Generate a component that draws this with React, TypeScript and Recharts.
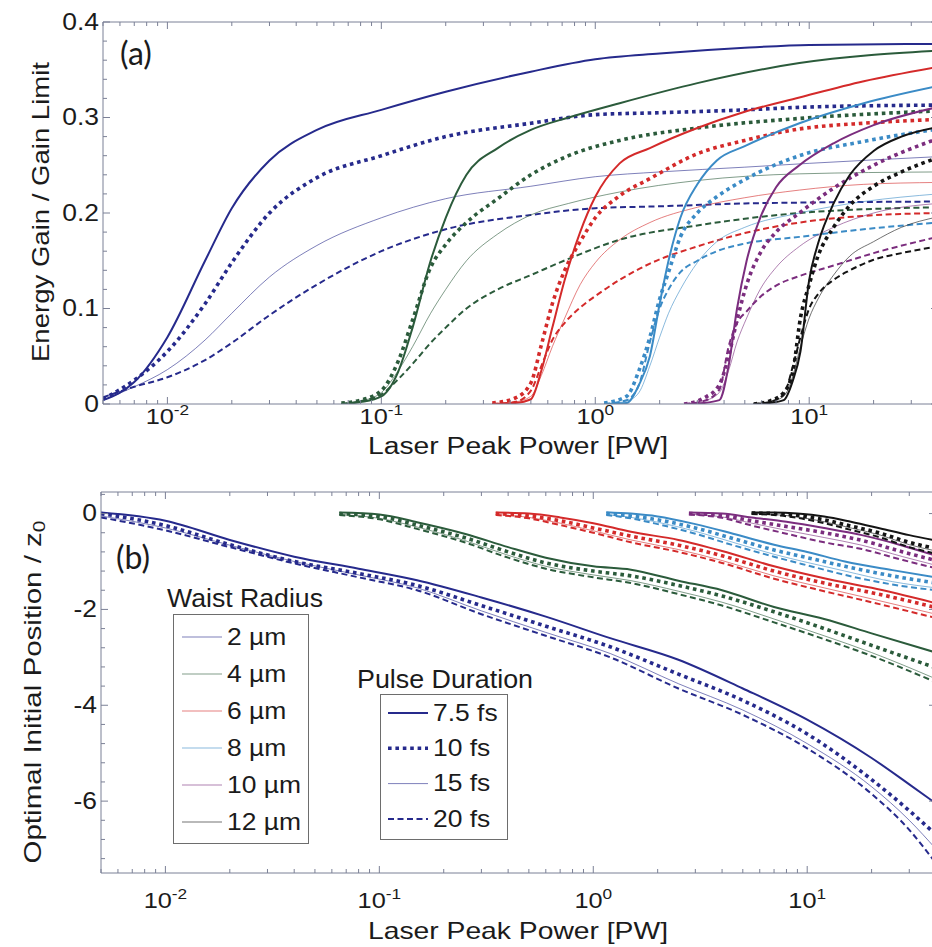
import React from 'react';
import { LineChart, Line, XAxis, YAxis } from 'recharts';

// ---- panel (a): energy gain / gain limit vs laser peak power [PW] ----
// each waist radius: power samples + 4 rows (7.5 fs, 10 fs, 15 fs, 20 fs)
const gainP2 = [0.005, 0.007, 0.01, 0.015, 0.02, 0.03, 0.05, 0.1, 0.2, 0.5, 1, 2, 5, 10, 40];
const gain2 = [
  [0.004, 0.023, 0.07, 0.15, 0.205, 0.255, 0.287, 0.308, 0.327, 0.348, 0.361, 0.367, 0.373, 0.376, 0.377],
  [0.005, 0.025, 0.055, 0.105, 0.148, 0.2, 0.237, 0.26, 0.28, 0.294, 0.303, 0.305, 0.308, 0.311, 0.313],
  [0.004, 0.018, 0.036, 0.067, 0.095, 0.133, 0.166, 0.195, 0.215, 0.228, 0.238, 0.243, 0.248, 0.252, 0.259],
  [0.007, 0.018, 0.028, 0.046, 0.064, 0.093, 0.125, 0.16, 0.183, 0.198, 0.205, 0.207, 0.21, 0.211, 0.212],
];

const gainP4 = [0.065, 0.08, 0.1, 0.12, 0.14, 0.17, 0.2, 0.25, 0.35, 0.5, 0.75, 1.3, 3, 9, 40];
const gain4 = [
  [0, 0.002, 0.008, 0.034, 0.08, 0.15, 0.195, 0.24, 0.268, 0.287, 0.3, 0.315, 0.336, 0.357, 0.37],
  [0.001, 0.004, 0.014, 0.045, 0.088, 0.143, 0.167, 0.19, 0.215, 0.24, 0.26, 0.276, 0.289, 0.299, 0.307],
  [0, 0.003, 0.012, 0.035, 0.06, 0.095, 0.12, 0.15, 0.178, 0.198, 0.21, 0.222, 0.234, 0.241, 0.243],
  [0, 0.003, 0.01, 0.026, 0.042, 0.064, 0.08, 0.1, 0.12, 0.135, 0.152, 0.172, 0.187, 0.2, 0.206],
];

const gainP6 = [0.33, 0.42, 0.5, 0.56, 0.63, 0.72, 0.85, 1.0, 1.3, 1.8, 3, 5, 9, 18, 40];
const gain6 = [
  [0, 0.001, 0.005, 0.035, 0.08, 0.13, 0.18, 0.217, 0.252, 0.268, 0.289, 0.306, 0.321, 0.338, 0.353],
  [0.001, 0.006, 0.022, 0.062, 0.105, 0.14, 0.17, 0.195, 0.218, 0.236, 0.262, 0.276, 0.288, 0.294, 0.298],
  [0, 0.002, 0.008, 0.03, 0.06, 0.09, 0.125, 0.148, 0.172, 0.19, 0.206, 0.216, 0.224, 0.23, 0.232],
  [0, 0.002, 0.014, 0.04, 0.067, 0.085, 0.101, 0.113, 0.13, 0.147, 0.165, 0.179, 0.19, 0.197, 0.2],
];

const gainP8 = [1.1, 1.4, 1.6, 1.8, 2.0, 2.2, 2.5, 3.0, 3.7, 5, 9, 18, 40];
const gain8 = [
  [0, 0.001, 0.02, 0.05, 0.105, 0.15, 0.195, 0.23, 0.255, 0.27, 0.294, 0.315, 0.333],
  [0.001, 0.008, 0.035, 0.07, 0.11, 0.138, 0.175, 0.2, 0.217, 0.235, 0.26, 0.275, 0.288],
  [0, 0.003, 0.012, 0.04, 0.07, 0.095, 0.12, 0.148, 0.17, 0.185, 0.2, 0.212, 0.22],
  [0, 0.004, 0.02, 0.065, 0.1, 0.12, 0.138, 0.15, 0.16, 0.168, 0.175, 0.183, 0.19],
];

const gainP10 = [2.6, 3.2, 3.8, 4.2, 4.6, 5.1, 5.9, 7, 9, 13, 20, 40];
const gain10 = [
  [0, 0.001, 0.004, 0.04, 0.1, 0.15, 0.195, 0.227, 0.25, 0.273, 0.292, 0.311],
  [0, 0.006, 0.02, 0.05, 0.088, 0.125, 0.158, 0.18, 0.2, 0.226, 0.25, 0.278],
  [0, 0.003, 0.012, 0.035, 0.065, 0.09, 0.12, 0.143, 0.165, 0.185, 0.2, 0.21],
  [0, 0.003, 0.015, 0.06, 0.085, 0.097, 0.112, 0.124, 0.134, 0.145, 0.158, 0.175],
];

const gainP12 = [5.5, 6.5, 7.6, 8.4, 9.1, 10, 11, 13, 15.5, 20, 27, 40];
const gain12 = [
  [0, 0.001, 0.004, 0.025, 0.055, 0.13, 0.168, 0.21, 0.24, 0.265, 0.28, 0.29],
  [0, 0.003, 0.012, 0.035, 0.09, 0.125, 0.155, 0.185, 0.208, 0.228, 0.243, 0.258],
  [0, 0.002, 0.008, 0.03, 0.06, 0.09, 0.11, 0.135, 0.155, 0.17, 0.185, 0.196],
  [0, 0.002, 0.01, 0.04, 0.07, 0.1, 0.115, 0.13, 0.14, 0.151, 0.158, 0.165],
];

// ---- panel (b): optimal initial position / z0 ----
const posP2 = [0.005, 0.01, 0.02, 0.04, 0.08, 0.15, 0.3, 0.6, 1.2, 2.5, 5, 10, 20, 30, 40];
const pos2 = [
  [0.02, -0.15, -0.55, -0.9, -1.15, -1.39, -1.75, -2.15, -2.6, -3.05, -3.65, -4.3, -5.1, -5.65, -6.05],
  [0.0, -0.25, -0.65, -1.0, -1.25, -1.5, -1.92, -2.35, -2.78, -3.35, -3.9, -4.6, -5.55, -6.2, -6.7],
  [-0.05, -0.3, -0.66, -1.0, -1.28, -1.55, -2.03, -2.48, -2.92, -3.55, -4.1, -4.8, -5.7, -6.4, -7.0],
  [-0.08, -0.35, -0.7, -1.04, -1.33, -1.6, -2.1, -2.55, -3.0, -3.65, -4.2, -4.9, -5.85, -6.6, -7.3],
];

const posP4 = [0.065, 0.1, 0.15, 0.25, 0.4, 0.6, 1.0, 1.5, 2.5, 4, 7, 12, 20, 40];
const pos4 = [
  [0.02, -0.02, -0.18, -0.42, -0.7, -0.92, -1.1, -1.17, -1.4, -1.6, -1.95, -2.2, -2.5, -2.9],
  [0.0, -0.06, -0.24, -0.5, -0.8, -1.03, -1.2, -1.3, -1.5, -1.72, -2.05, -2.4, -2.75, -3.22],
  [-0.02, -0.1, -0.28, -0.56, -0.87, -1.1, -1.28, -1.4, -1.62, -1.85, -2.2, -2.55, -2.9, -3.45],
  [-0.03, -0.12, -0.32, -0.6, -0.92, -1.15, -1.33, -1.45, -1.68, -1.92, -2.27, -2.62, -2.97, -3.52],
];

const posP6 = [0.35, 0.5, 0.7, 1, 1.5, 2.5, 4, 7, 12, 20, 40];
const pos6 = [
  [0.02, 0.0, -0.08, -0.2, -0.38, -0.55, -0.78, -1.1, -1.35, -1.55, -1.87],
  [0.0, -0.05, -0.15, -0.3, -0.47, -0.66, -0.88, -1.2, -1.45, -1.65, -1.96],
  [-0.02, -0.08, -0.2, -0.36, -0.55, -0.75, -0.98, -1.3, -1.55, -1.78, -2.1],
  [-0.03, -0.1, -0.24, -0.4, -0.6, -0.8, -1.03, -1.36, -1.62, -1.85, -2.18],
];

const posP8 = [1.15, 1.5, 2, 3, 4.5, 7, 10, 15, 25, 40];
const pos8 = [
  [0.03, 0.0, -0.06, -0.22, -0.42, -0.65, -0.8, -1.0, -1.18, -1.33],
  [0.0, -0.05, -0.13, -0.3, -0.52, -0.76, -0.92, -1.1, -1.3, -1.45],
  [-0.02, -0.08, -0.18, -0.37, -0.6, -0.85, -1.02, -1.2, -1.42, -1.55],
  [-0.03, -0.1, -0.22, -0.42, -0.66, -0.9, -1.08, -1.28, -1.48, -1.6],
];

const posP10 = [2.8, 4, 5.5, 8, 12, 18, 28, 40];
const pos10 = [
  [0.02, 0.0, -0.08, -0.17, -0.3, -0.45, -0.67, -0.88],
  [0.0, -0.04, -0.15, -0.27, -0.4, -0.56, -0.8, -0.98],
  [-0.01, -0.07, -0.2, -0.35, -0.5, -0.66, -0.9, -1.08],
  [-0.02, -0.09, -0.25, -0.42, -0.6, -0.74, -0.97, -1.14],
];

const posP12 = [5.5, 7, 9, 12, 16, 22, 30, 40];
const pos12 = [
  [0.02, 0.02, 0.0, -0.06, -0.17, -0.31, -0.45, -0.56],
  [0.01, 0.0, -0.04, -0.13, -0.26, -0.41, -0.6, -0.73],
  [0.0, -0.02, -0.07, -0.17, -0.3, -0.45, -0.65, -0.78],
  [-0.01, -0.03, -0.09, -0.2, -0.34, -0.5, -0.7, -0.84],
];

const waistLabels = ['2 µm', '4 µm', '6 µm', '8 µm', '10 µm', '12 µm'];
const pulseLabels = ['7.5 fs', '10 fs', '15 fs', '20 fs'];

const xTicks = [
  0.005, 0.006, 0.007, 0.008, 0.009, 0.01, 0.02, 0.03, 0.04, 0.05, 0.06, 0.07, 0.08, 0.09,
  0.1, 0.2, 0.3, 0.4, 0.5, 0.6, 0.7, 0.8, 0.9, 1, 2, 3, 4, 5, 6, 7, 8, 9, 10, 20, 30, 40,
];
const gainTicks = Array.from({ length: 21 }, (_, i) => +(i * 0.02).toFixed(2));
const gainMajor = [0, 0.1, 0.2, 0.3, 0.4];
const posTicks = Array.from({ length: 20 }, (_, i) => +(-7.2 + i * 0.4).toFixed(1));
const posMajor = [0, -2, -4, -6];

const colors = ['#262a8c', '#2b5b3b', '#d42a2a', '#3b8bc6', '#7b2d7e', '#141414'];
const styles = [
  { w: 2, dash: undefined, op: 1 },
  { w: 3.6, dash: '3.6 3.8', op: 1 },
  { w: 0.8, dash: undefined, op: 0.75 },
  { w: 2, dash: '6 3.5', op: 1 },
];

const gainSets = [
  [gainP2, gain2], [gainP4, gain4], [gainP6, gain6],
  [gainP8, gain8], [gainP10, gain10], [gainP12, gain12],
] as const;
const posSets = [
  [posP2, pos2], [posP4, pos4], [posP6, pos6],
  [posP8, pos8], [posP10, pos10], [posP12, pos12],
] as const;

const AX = '#7b8096';
const TXT = '#1b1b1b';
const FONT = '"Liberation Sans", Arial, sans-serif';
const SX = 1.15;

function xTick(side: 'bottom' | 'top', labelDy: number) {
  return (props: any) => {
    const { x, y, payload } = props;
    const e = Math.log10(payload.value);
    const major = Math.abs(e - Math.round(e)) < 1e-6;
    const len = major ? 7 : 4;
    const dir = side === 'bottom' ? -1 : 1;
    return (
      <g>
        <line x1={x} y1={y} x2={x} y2={y + dir * len} stroke={AX} strokeWidth={1} />
        {side === 'bottom' && major && (
          <text
            transform={`translate(${x},${y + labelDy}) scale(${SX},1)`}
            textAnchor="middle"
            dominantBaseline="central"
            fontFamily={FONT}
            fontSize={22}
            fill={TXT}
          >
            <tspan>10</tspan>
            <tspan dy={-8} fontSize={15}>{Math.round(e)}</tspan>
          </text>
        )}
      </g>
    );
  };
}

function yTick(side: 'left' | 'right', majors: number[], fmt: (v: number) => string) {
  return (props: any) => {
    const { x, y, payload } = props;
    const v = payload.value;
    const major = majors.some((m) => Math.abs(m - v) < 1e-9);
    const len = major ? 7 : 4;
    const dir = side === 'left' ? 1 : -1;
    return (
      <g>
        <line x1={x} y1={y} x2={x + dir * len} y2={y} stroke={AX} strokeWidth={1} />
        {side === 'left' && major && (
          <text
            transform={`translate(${x - 4},${y}) scale(${SX},1)`}
            textAnchor="end"
            dominantBaseline="central"
            fontFamily={FONT}
            fontSize={23}
            fill={TXT}
          >
            {fmt(v)}
          </text>
        )}
      </g>
    );
  };
}

function Panel({
  sets, domain, ticks, majors, fmt, labelDy, margin, height,
}: {
  sets: any; domain: [number, number]; ticks: number[]; majors: number[];
  fmt: (v: number) => string; labelDy: number; margin: any; height: number;
}) {
  const common = {
    type: 'number' as const, scale: 'log' as const, domain: [0.005, 40], allowDataOverflow: true,
    ticks: xTicks, interval: 0 as const, tickSize: 0, tickMargin: 0, height: 1,
    stroke: AX, tickLine: false,
  };
  const ycommon = {
    type: 'number' as const, domain, allowDataOverflow: true, ticks, interval: 0 as const,
    tickSize: 0, tickMargin: 0, width: 1, stroke: AX, tickLine: false,
  };
  return (
    <LineChart width={950} height={height} margin={margin}>
      <XAxis xAxisId="bottom" dataKey="x" orientation="bottom" {...common} tick={xTick('bottom', labelDy)} />
      <XAxis xAxisId="top" dataKey="x" orientation="top" {...common} tick={xTick('top', 0)} />
      <YAxis yAxisId="left" orientation="left" {...ycommon} tick={yTick('left', majors, fmt)} />
      <YAxis yAxisId="right" orientation="right" {...ycommon} tick={yTick('right', majors, fmt)} />
      {sets.map(([p, rows]: any, wi: number) =>
        [2, 3, 1, 0].map((k) => (
          <Line
            key={`${wi}-${k}`}
            xAxisId="bottom"
            yAxisId="left"
            data={p.map((x: number, i: number) => ({ x, y: rows[k][i] }))}
            dataKey="y"
            type="monotone"
            stroke={colors[wi]}
            strokeWidth={styles[k].w}
            strokeDasharray={styles[k].dash}
            strokeOpacity={styles[k].op}
            dot={false}
            activeDot={false}
            isAnimationActive={false}
          />
        )),
      )}
    </LineChart>
  );
}

function Overlay() {
  const t = { fontFamily: FONT, fill: TXT };
  return (
    <svg width={932} height={947} style={{ position: 'absolute', left: 0, top: 0, pointerEvents: 'none' }}>
      <text x={136} y={52} textAnchor="middle" dominantBaseline="central" fontFamily='Lato, "Open Sans", sans-serif' fontSize={32} fill={TXT}>(a)</text>
      <text x={133} y={556} textAnchor="middle" dominantBaseline="central" fontFamily='Lato, "Open Sans", sans-serif' fontSize={32} fill={TXT}>(b)</text>

      <text transform="translate(40,212) rotate(-90)" textAnchor="middle" dominantBaseline="central" fontSize={24} textLength={300} lengthAdjust="spacingAndGlyphs" {...t}>
        Energy Gain / Gain Limit
      </text>
      <text x={518} y={446} textAnchor="middle" dominantBaseline="central" fontSize={23} textLength={300} lengthAdjust="spacingAndGlyphs" {...t}>
        Laser Peak Power [PW]
      </text>
      <text transform="translate(32,692) rotate(-90)" textAnchor="middle" dominantBaseline="central" fontSize={24} textLength={343} lengthAdjust="spacingAndGlyphs" {...t}>
        Optimal Initial Position / z<tspan dy={7} fontSize={17}>0</tspan>
      </text>
      <text x={518} y={930} textAnchor="middle" dominantBaseline="central" fontSize={24} textLength={300} lengthAdjust="spacingAndGlyphs" {...t}>
        Laser Peak Power [PW]
      </text>

      {/* waist radius legend */}
      <text x={245} y={598} textAnchor="middle" dominantBaseline="central" fontSize={25} textLength={156} lengthAdjust="spacingAndGlyphs" {...t}>
        Waist Radius
      </text>
      <rect x={173.5} y={614.5} width={135} height={229} fill="white" stroke="#6d6d6d" strokeWidth={1} />
      {waistLabels.map((lab, i) => {
        const cy = 637 + i * 37;
        return (
          <g key={lab}>
            <line x1={182} x2={222} y1={cy} y2={cy} stroke={colors[i]} strokeWidth={0.8} strokeOpacity={0.75} />
            <text transform={`translate(227,${cy}) scale(${SX},1)`} dominantBaseline="central" fontSize={23} {...t}>{lab}</text>
          </g>
        );
      })}

      {/* pulse duration legend */}
      <text x={445} y={679} textAnchor="middle" dominantBaseline="central" fontSize={25} textLength={176} lengthAdjust="spacingAndGlyphs" {...t}>
        Pulse Duration
      </text>
      <rect x={380.5} y={694.5} width={127} height={145} fill="white" stroke="#6d6d6d" strokeWidth={1} />
      {pulseLabels.map((lab, k) => {
        const cy = 713 + k * 35.3;
        return (
          <g key={lab}>
            <line x1={388} x2={428} y1={cy} y2={cy} stroke={colors[0]} strokeWidth={styles[k].w}
              strokeDasharray={styles[k].dash} strokeOpacity={styles[k].op} />
            <text transform={`translate(433,${cy}) scale(${SX},1)`} dominantBaseline="central" fontSize={23} {...t}>{lab}</text>
          </g>
        );
      })}
    </svg>
  );
}

export default function App() {
  return (
    <div style={{ position: 'absolute', left: 0, top: 0, width: 932, height: 947, overflow: 'hidden', background: '#fff' }}>
      <div style={{ position: 'absolute', left: 0, top: 0 }}>
        <Panel
          sets={gainSets}
          domain={[0, 0.4]}
          ticks={gainTicks}
          majors={gainMajor}
          fmt={(v) => (v === 0 ? '0' : v.toFixed(1))}
          labelDy={13}
          height={470}
          margin={{ top: 21, right: 11, bottom: 65, left: 102 }}
        />
      </div>
      <div style={{ position: 'absolute', left: 0, top: 470 }}>
        <Panel
          sets={posSets}
          domain={[-7.5, 0.45]}
          ticks={posTicks}
          majors={posMajor}
          fmt={(v) => String(v)}
          labelDy={28}
          height={477}
          margin={{ top: 21, right: 13, bottom: 73, left: 100 }}
        />
      </div>
      <Overlay />
    </div>
  );
}
